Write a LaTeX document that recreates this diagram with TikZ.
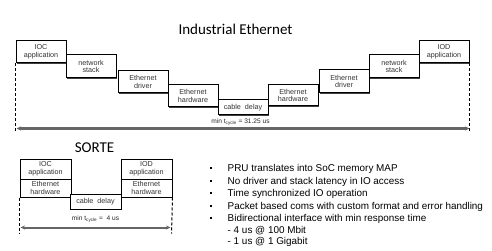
\documentclass[tikz,border=0pt]{standalone}
\usepackage{fontspec}
\setmainfont{Liberation Sans}
\newfontfamily\titlefont{Carlito}
\usetikzlibrary{arrows.meta}
\begin{document}
\begin{tikzpicture}[x=1pt,y=-1pt,
  box/.style={draw=black, line width=1pt, fill=white, inner sep=0pt, anchor=north west,
    minimum width=50pt, align=center, font=\fontsize{7.2}{7.6}\selectfont, text=black!80},
  shade/.style={fill=black!75},
  guide/.style={draw=black, line width=1pt, dash pattern=on 3pt off 2pt},
  span/.style={{Stealth[length=4.5pt,width=4pt]}-{Stealth[length=4.5pt,width=4pt]}, line width=2pt, draw=black!60},
  lbl/.style={font=\fontsize{6.6}{7}\selectfont, text=black!85, inner sep=1pt},
  ttl/.style={font=\titlefont\fontsize{15}{16}\selectfont},
  bul/.style={font=\fontsize{9.9}{10}\selectfont, anchor=west, inner sep=0pt},
  dot/.style={fill=black, minimum size=2pt, inner sep=0pt}]
\useasboundingbox (-0.5,-0.5) rectangle (491.5,250.5);
% title
\node[ttl] (t1) at (235,29) {Industrial Ethernet};
% shadows
\foreach \x/\y/\h in {15/40/22,65/54/23,117/70/22,167/84/22,217/99/15,267/84/21,318/69/23,368/54/23,418/40/22}
  \fill[shade] (\x+1.3,\y+1.3) rectangle ++(50,\h);
% top chain
\node[box, minimum height=22pt] (ioc) at (15,40) {IOC\\application};
\node[box, minimum height=23pt] (ns1) at (65,54) {network\\stack};
\node[box, minimum height=22pt] (ed1) at (117,70) {Ethernet\\driver};
\node[box, minimum height=22pt] (eh1) at (167,84) {Ethernet\\hardware};
\node[box, minimum height=15pt] (cd1) at (217,99) {cable\ \ delay};
\node[box, minimum height=21pt] (eh2) at (267,84) {Ethernet\\hardware};
\node[box, minimum height=23pt] (ed2) at (318,69) {Ethernet\\driver};
\node[box, minimum height=23pt] (ns2) at (368,54) {network\\stack};
\node[box, minimum height=22pt] (iod) at (418,40) {IOD\\application};
\coordinate (a1) at (16,128);
\coordinate (a2) at (469,128);
\coordinate (a1e) at (15,131);
\coordinate (a2e) at (469,131);
\draw[guide] (ioc.south west) -- (a1e);
\draw[guide] (iod.south east) -- (a2e);
\draw[span] (a1) -- (a2);
\node[lbl] (m1) at (240,122) {min t\textsubscript{cycle} = 31.25 us};
% SORTE
\node[ttl] (t2) at (94,147) {SORTE};
\foreach \x/\y/\h in {19/158/38,69/193/15,120/158/38}
  \fill[shade] (\x+1.3,\y+1.3) rectangle ++(51,\h);
\node[box, minimum width=51pt, minimum height=20pt] (sioc) at (19,158) {IOC\\application};
\node[box, minimum width=51pt, minimum height=18pt] (seh1) at (19,178) {Ethernet\\hardware};
\node[box, minimum width=51pt, minimum height=15pt] (scd) at (69,193) {cable\ \ delay};
\node[box, minimum width=51pt, minimum height=20pt] (siod) at (120,158) {IOD\\application};
\node[box, minimum width=51pt, minimum height=18pt] (seh2) at (120,178) {Ethernet\\hardware};
\coordinate (b1) at (20,227);
\coordinate (b2) at (170,227);
\coordinate (b1e) at (19,233);
\coordinate (b2e) at (171,233);
\draw[guide] (seh1.south west) -- (b1e);
\draw[guide] (seh2.south east) -- (b2e);
\draw[span] (b1) -- (b2);
\node[lbl] (m2) at (95,219) {min t\textsubscript{cycle} =\ \ 4 us};
% bullets
\foreach \y/\t [count=\i] in {168/PRU translates into SoC memory MAP,
  181/No driver and stack latency in IO access,
  193/Time synchronized IO operation,
  206/Packet based coms with custom format and error handling,
  218/Bidirectional interface with min response time}{
  \node[dot] (d\i) at (210.5,\y-0.5) {};
  \node[bul] (l\i) at (227,\y) {\t};
}
\node[bul] (s1) at (227,230) {- 4 us @ 100 Mbit};
\node[bul] (s2) at (227,241) {- 1 us @ 1 Gigabit};
\end{tikzpicture}
\end{document}
